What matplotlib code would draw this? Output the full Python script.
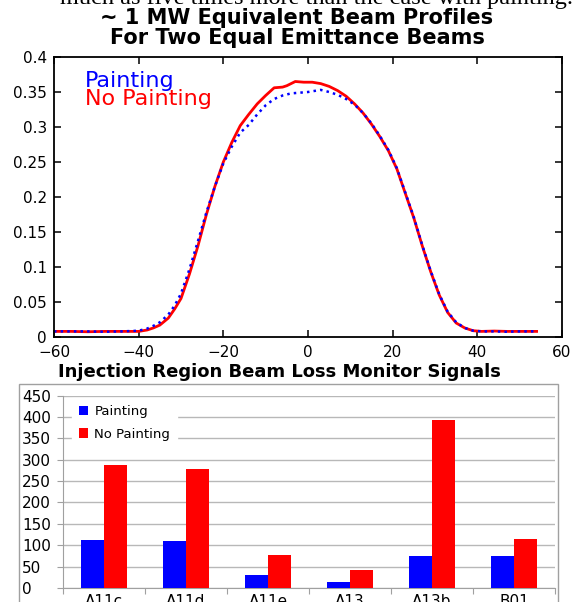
import numpy as np
import matplotlib.pyplot as plt
from matplotlib.patches import Rectangle

W, H = 574, 602

# beam profile, no painting (solid red)
x_nopaint = [-60, -56, -52, -48, -44, -40, -38, -36.5, -35, -33, -31.5, -30, -28, -26, -24, -22,
             -20, -18, -16, -14, -12, -10, -8, -6, -5, -3, -1, 1, 3, 5, 7, 9, 11, 13, 15, 17,
             19, 21, 23, 25, 27, 29, 31, 33, 35, 37, 39, 41, 44, 47, 50, 54]
y_nopaint = [0.008, 0.008, 0.0075, 0.008, 0.008, 0.008, 0.010, 0.013, 0.017, 0.027, 0.040, 0.055,
             0.090, 0.130, 0.175, 0.215, 0.250, 0.278, 0.302, 0.318, 0.333, 0.345, 0.356, 0.357,
             0.359, 0.365, 0.364, 0.364, 0.362, 0.358, 0.352, 0.344, 0.333, 0.320, 0.304, 0.286,
             0.266, 0.240, 0.205, 0.170, 0.130, 0.093, 0.060, 0.035, 0.020, 0.013, 0.009, 0.008,
             0.0085, 0.008, 0.008, 0.008]

# beam profile, painting (dotted blue)
x_paint = [-60, -56, -52, -48, -44, -40, -38, -36.5, -35, -33, -31.5, -30, -28, -26, -24, -22,
           -20, -18, -16, -14, -12, -10, -8, -6, -4, -2, 0, 2, 3, 5, 7, 9, 11, 13, 15, 17,
           19, 21, 23, 25, 27, 29, 31, 33, 35, 37, 39, 41, 44, 47, 50, 54]
y_paint = [0.008, 0.008, 0.008, 0.0075, 0.008, 0.009, 0.012, 0.016, 0.021, 0.032, 0.045, 0.062,
           0.097, 0.137, 0.178, 0.215, 0.248, 0.272, 0.292, 0.303, 0.318, 0.331, 0.340, 0.345,
           0.348, 0.349, 0.350, 0.352, 0.353, 0.350, 0.346, 0.340, 0.332, 0.320, 0.305, 0.287,
           0.267, 0.241, 0.206, 0.171, 0.131, 0.094, 0.061, 0.036, 0.021, 0.013, 0.009, 0.008,
           0.008, 0.0075, 0.008, 0.008]

# beam loss monitor signals
monitors = ["A11c", "A11d", "A11e", "A13", "A13b", "B01"]
blm_paint = [113, 110, 30, 15, 75, 75]
blm_nopaint = [288, 278, 77, 43, 392, 115]


def fx(px):
    return px / W


def fy(py):
    return 1 - py / H


fig = plt.figure(figsize=(W / 100, H / 100), dpi=100)

# sentence cut off at the top edge of the page
fig.text(fx(60), fy(4), "much as five times more than the case with painting.",
         family="Liberation Serif", fontsize=17.5, ha="left", va="baseline")

# ---- upper panel: beam profiles ----
ax1 = fig.add_axes([fx(54), fy(337), fx(562) - fx(54), fy(57) - fy(337)])
ax1.plot(x_nopaint, y_nopaint, color="red", lw=2.0)
ax1.plot(x_paint, y_paint, color="blue", lw=1.8, ls=":")
ax1.set_xlim(-60, 60)
ax1.set_ylim(0, 0.4)
ax1.set_xticks([-60, -40, -20, 0, 20, 40, 60])
ax1.set_yticks(np.arange(0, 0.41, 0.05))
ax1.set_yticklabels(["0", "0.05", "0.1", "0.15", "0.2", "0.25", "0.3", "0.35", "0.4"])
ax1.tick_params(direction="in", top=True, right=True, length=5, width=1.1,
                labelsize=11, pad=5)
ax1.tick_params(axis="x", pad=6)
for s in ax1.spines.values():
    s.set_linewidth(1.3)

ax1.text(fx(85), fy(81), "Painting", transform=fig.transFigure, color="blue",
         fontsize=16, va="center")
ax1.text(fx(85), fy(99), "No Painting", transform=fig.transFigure, color="red",
         fontsize=16, va="center")

fig.text(fx(297), fy(28), "~ 1 MW Equivalent Beam Profiles\nFor Two Equal Emittance Beams",
         ha="center", va="center", multialignment="center", linespacing=0.95,
         fontsize=15, fontweight="bold")

# ---- lower panel: BLM bar chart ----
fig.patches.append(Rectangle((fx(19), fy(612)), fx(558) - fx(19), fy(384) - fy(612),
                             transform=fig.transFigure, fill=False,
                             edgecolor="#a0a0a0", lw=1.0))

fig.text(fx(279), fy(372), "Injection Region Beam Loss Monitor Signals", ha="center",
         va="center", fontsize=13, fontweight="bold")

ax2 = fig.add_axes([fx(63), fy(588), fx(555) - fx(63), fy(395.5) - fy(588)])
pos = np.arange(len(monitors))
bw = 0.285
ax2.bar(pos - bw / 2, blm_paint, bw, color="#0000ff", label="Painting", zorder=3)
ax2.bar(pos + bw / 2, blm_nopaint, bw, color="#ff0000", label="No Painting", zorder=3)
ax2.set_xlim(-0.5, len(monitors) - 0.5)
ax2.set_ylim(0, 450)
ax2.set_yticks(np.arange(0, 451, 50))
ax2.yaxis.grid(True, color="#b8b8b8", lw=1.0, zorder=0)
ax2.set_axisbelow(True)
for side in ["top", "right"]:
    ax2.spines[side].set_visible(False)
ax2.spines["left"].set_color("#a0a0a0")
ax2.spines["bottom"].set_color("#a0a0a0")
ax2.set_xticks(np.arange(-0.5, len(monitors), 1.0))
ax2.set_xticklabels([])
ax2.tick_params(axis="x", direction="out", length=4, color="#a0a0a0")
# left-aligned value labels starting near the outer frame
ax2.tick_params(axis="y", direction="out", length=4.5, color="#a0a0a0", labelsize=11,
                pad=25)
for lbl in ax2.get_yticklabels():
    lbl.set_horizontalalignment("left")
for i, name in enumerate(monitors):
    ax2.text(i, -14, name, ha="center", va="top", fontsize=11)

leg = ax2.legend(loc="upper left", frameon=True,
                 fontsize=9.5, handlelength=0.75, handleheight=0.75, labelspacing=0.75,
                 borderpad=0.5, handletextpad=0.45, borderaxespad=0)
leg.get_frame().set_edgecolor("white")
leg.get_frame().set_facecolor("white")
leg.get_frame().set_alpha(1.0)
leg.get_frame().set_boxstyle("square", pad=0)
leg.set_bbox_to_anchor(((72 - 63) / (555 - 63), 0.985), transform=ax2.transAxes)

fig.savefig("out.png", dpi=100)
